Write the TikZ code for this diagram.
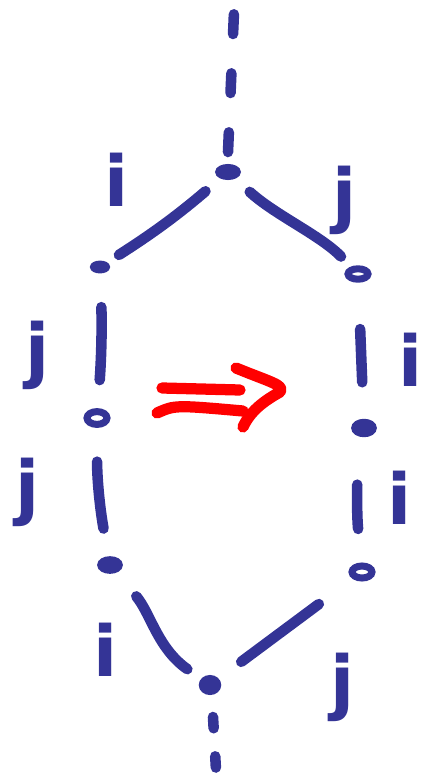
\documentclass[tikz,border=0pt]{standalone}
\usepackage{fontspec}
\setmainfont{DejaVu Sans}
\usetikzlibrary{shapes.geometric}
\definecolor{PenBlue}{RGB}{52,52,150}
\definecolor{PenRed}{RGB}{255,0,0}
\tikzset{
  stroke/.style={draw=PenBlue,line width=7.5pt,line cap=round},
  dotnode/.style={ellipse,draw=PenBlue,fill=PenBlue,line width=4pt,
    minimum width=0.5cm,minimum height=0.26cm,inner sep=0pt},
  ringnode/.style={ellipse,draw=PenBlue,fill=white,line width=5pt,
    minimum width=0.5cm,minimum height=0.26cm,inner sep=0pt},
  leg/.style={stroke,dash pattern=on 14pt off 28pt},
  letter/.style={text=PenBlue,font=\bfseries\fontsize{50}{50}\selectfont,inner sep=0pt},
  redpen/.style={draw=PenRed,line width=8pt,line cap=round,line join=round}
}

\begin{document}
\begin{tikzpicture}[x=0.025cm,y=-0.025cm]
  \useasboundingbox (0,0) rectangle (425,776);
  % vertices
  \node[dotnode] (top) at (228,172) {};
  \node[dotnode,minimum width=0.36cm,minimum height=0.18cm] (l1) at (100,267) {};
  \node[ringnode] (r1) at (358,274) {};
  \node[ringnode,minimum height=0.32cm] (l2) at (97,418) {};
  \node[dotnode,minimum height=0.32cm] (r2) at (364,428) {};
  \node[dotnode,minimum height=0.3cm] (l3) at (110,565) {};
  \node[ringnode,minimum height=0.3cm] (r3) at (362,572) {};
  \node[dotnode,minimum width=0.42cm,minimum height=0.36cm] (bot) at (210,685) {};
  \coordinate (up) at (234,12);
  \coordinate (down) at (216,770);
  % external legs
  \draw[leg] (top) ++(0,-20) -- (up);
  \draw[stroke,dash pattern=on 8pt off 20pt] (bot) ++(3,32) -- (down);
  % left path
  \draw[stroke,shorten <=14pt,shorten >=10pt] (top) to[bend left=4] (l1);
  \draw[stroke,shorten <=24pt,shorten >=20pt] (l1) to[bend left=3] (l2);
  \draw[stroke,shorten <=24pt,shorten >=20pt] (l2) to[bend right=5] (l3);
  \draw[stroke,shorten <=22pt,shorten >=12pt] (l3) to[out=-50,in=145] (bot);
  % right path
  \draw[stroke,shorten <=14pt,shorten >=10pt] (top) .. controls (275,215) and (320,235) .. (r1);
  \draw[stroke,shorten <=33pt,shorten >=26pt] (r1) -- (r2);
  \draw[stroke,shorten <=34pt,shorten >=24pt] (r2) to[bend right=6] (r3);
  \draw[stroke,shorten <=30pt,shorten >=20pt] (r3) -- (bot);
  % labels
  \node[letter] (li1) at (117,180) {i};
  \node[letter] (lj1) at (345,200) {j};
  \node[letter] (lj2) at (38,355) {j};
  \node[letter] (ri2) at (411,360) {i};
  \node[letter] (lj3) at (28,492) {j};
  \node[letter] (ri3) at (400,498) {i};
  \node[letter] (li4) at (106,650) {i};
  \node[letter] (rj4) at (343,687) {j};
  % arrow
  \draw[redpen] (162,388) -- (240,390);
  \draw[redpen] (157,413) .. controls (175,405) .. (243,411);
  \draw[redpen] (236,368) .. controls (270,382) and (285,385) .. (280,392)
    .. controls (262,402) and (250,412) .. (243,427);
\end{tikzpicture}
\end{document}
